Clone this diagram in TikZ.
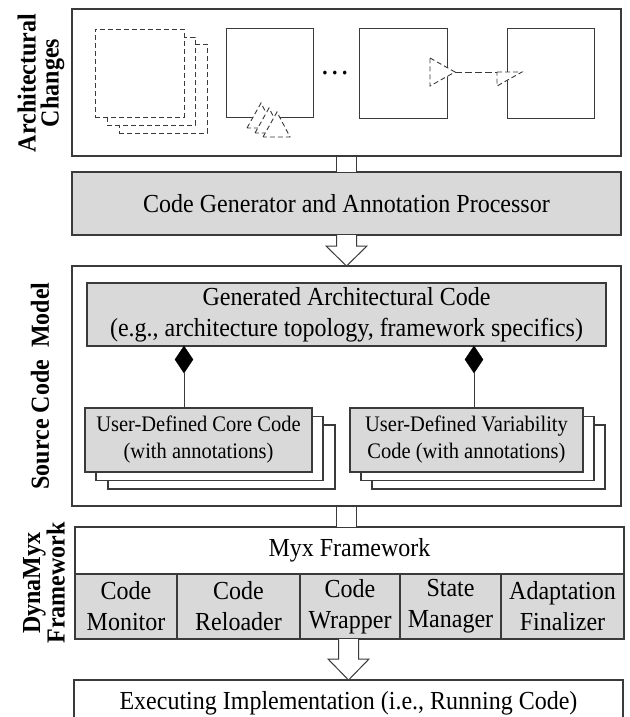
\documentclass[tikz,border=0pt]{standalone}
\usepackage{fontspec}
\setmainfont{Liberation Serif}[FakeStretch=0.923]
\usetikzlibrary{shapes.geometric,calc}
\definecolor{boxgray}{HTML}{D9D9D9}
\definecolor{edge}{HTML}{3A3A3A}
\tikzset{
  frame/.style={draw=edge, line width=1.3pt, inner sep=0pt, outer sep=0pt, anchor=north west, fill=white},
  graybox/.style={frame, fill=boxgray},
  txt/.style={font=\fontsize{26}{31}\selectfont, align=center},
  smalltxt/.style={font=\fontsize{22.2}{27}\selectfont, align=center},
  lab/.style={font=\fontsize{26}{23}\selectfont\bfseries, rotate=90, align=center},
  dsq/.style={draw=edge, dash pattern=on 5pt off 3pt, line width=0.9pt, fill=white, inner sep=0pt, outer sep=0pt, anchor=north west},
  sq/.style={draw=edge, line width=1pt, fill=white, inner sep=0pt, outer sep=0pt, anchor=north west},
  port/.style={draw=edge, dash pattern=on 5pt off 3pt, line width=0.9pt, fill=white},
  hol/.style={draw=edge, line width=1pt, fill=white},
  comp/.style={diamond, fill=black, draw=black, inner sep=0pt, outer sep=0pt, minimum width=18pt, minimum height=27pt, anchor=north},
  link/.style={draw=edge, line width=1pt}
}
\begin{document}
\begin{tikzpicture}[x=1pt,y=-1pt]
\useasboundingbox (0,0) rectangle (629,717);
\clip (0,0) rectangle (629,717);

% ---------- Architectural changes ----------
\node[frame, minimum width=549pt, minimum height=147pt] (b1) at (72,9) {};
\node[lab] (l1) at (41,83) {Architectural\\Changes};

\node[dsq, minimum width=88pt, minimum height=89pt] (s1c) at (119,44) {};
\node[dsq, minimum width=88pt, minimum height=88pt] (s1b) at (107,37) {};
\node[dsq, minimum width=89pt, minimum height=88pt] (s1) at (95,29) {};

\node[sq, minimum width=87pt, minimum height=88pt] (s2) at (226,29) {};
\node[sq, minimum width=88pt, minimum height=89pt] (s3) at (359,29) {};
\node[sq, minimum width=87pt, minimum height=89pt] (s4) at (507,29) {};

\node[font=\fontsize{32}{34}\selectfont, inner sep=0pt] (dots) at (335,73) {…};

% stacked ports at bottom of s2
\draw[port] (247,128) -- (261,103) -- (274,128) -- cycle;
\draw[port] (255,133) -- (269,108) -- (282,133) -- cycle;
\draw[port] (263,137) -- (277,112) -- (290,137) -- cycle;

% ports between s3 and s4
\coordinate (p1) at (455,72);
\coordinate (p2) at (497,72);
\draw[port] (430,58) -- (p1) -- (430,86) -- cycle;
\draw[port] (p2) -- (522,72) -- (497,86) -- cycle;
\draw[edge, line width=0.9pt, dash pattern=on 7pt off 3pt] (p1) -- (p2);

% ---------- Code generator ----------
\node[graybox, minimum width=549pt, minimum height=63pt, txt] (b2) at (72,172) {Code Generator and Annotation Processor};

\draw[hol] ([xshift=-10pt]b1.south) rectangle ([xshift=10pt]b2.north);

% ---------- Source code model ----------
\node[frame, minimum width=549pt, minimum height=240pt] (b3) at (72,266) {};
\node[lab] (l3) at (40,386) {Source Code\ \ Model};

\draw[hol] ($(b2.south)+(-10,0)$) -- ($(b3.north)+(-10,-20)$) -- ($(b3.north)+(-20.5,-20)$) -- (b3.north)
  -- ($(b3.north)+(20.5,-20)$) -- ($(b3.north)+(10,-20)$) -- ($(b2.south)+(10,0)$);

\node[graybox, minimum width=519pt, minimum height=63pt, txt] (gen) at (87,283)
  {Generated Architectural Code\\(e.g., architecture topology, framework specifics)};

\node[frame, minimum width=227pt, minimum height=64pt] (core3) at (108,425) {};
\node[frame, minimum width=227pt, minimum height=64pt] (core2) at (96,416.5) {};
\node[graybox, minimum width=227pt, minimum height=64pt, smalltxt] (core) at (85,408)
  {User-Defined Core Code\\(with annotations)};

\node[frame, minimum width=233pt, minimum height=64pt] (var3) at (372,425) {};
\node[frame, minimum width=233pt, minimum height=64pt] (var2) at (361,416.5) {};
\node[graybox, minimum width=233pt, minimum height=64pt, smalltxt] (var) at (350,408)
  {User-Defined Variability\\Code (with annotations)};

\node[comp] (dia1) at (184,346) {};
\node[comp] (dia2) at (474,346) {};
\draw[link] (dia1.south) -- (dia1.south |- core.north);
\draw[link] (dia2.south) -- (dia2.south |- var.north);

% ---------- DynaMyx framework ----------
\node[frame, minimum width=549pt, minimum height=47pt, txt] (myx) at (75,527) {Myx Framework};
\node[lab] (l4) at (44,583) {DynaMyx\\Framework};

\draw[hol] ([xshift=-10pt]b3.south) rectangle ([xshift=10pt]b3.south |- myx.north);

\node[graybox, minimum width=102pt, minimum height=65pt, txt] (mon) at (75,574) {Code\\Monitor};
\node[graybox, minimum width=123pt, minimum height=65pt, txt] (rel) at (177,574) {Code\\Reloader};
\node[graybox, minimum width=100pt, minimum height=65pt, txt] (wrap) at (300,574) {Code\\Wrapper};
\node[graybox, minimum width=101pt, minimum height=65pt, txt] (state) at (400,574) {State\\Manager};
\node[graybox, minimum width=123pt, minimum height=65pt, txt] (fin) at (501,574) {Adaptation\\Finalizer};

% ---------- Executing implementation ----------
\node[frame, minimum width=549pt, minimum height=46pt, txt] (b5) at (74,680) {Executing Implementation (i.e., Running Code)};

\draw[hol] ($(b5.north)+(-10,-41)$) -- ($(b5.north)+(-10,-21)$) -- ($(b5.north)+(-20.5,-21)$) -- (b5.north)
  -- ($(b5.north)+(20.5,-21)$) -- ($(b5.north)+(10,-21)$) -- ($(b5.north)+(10,-41)$);
\end{tikzpicture}
\end{document}
